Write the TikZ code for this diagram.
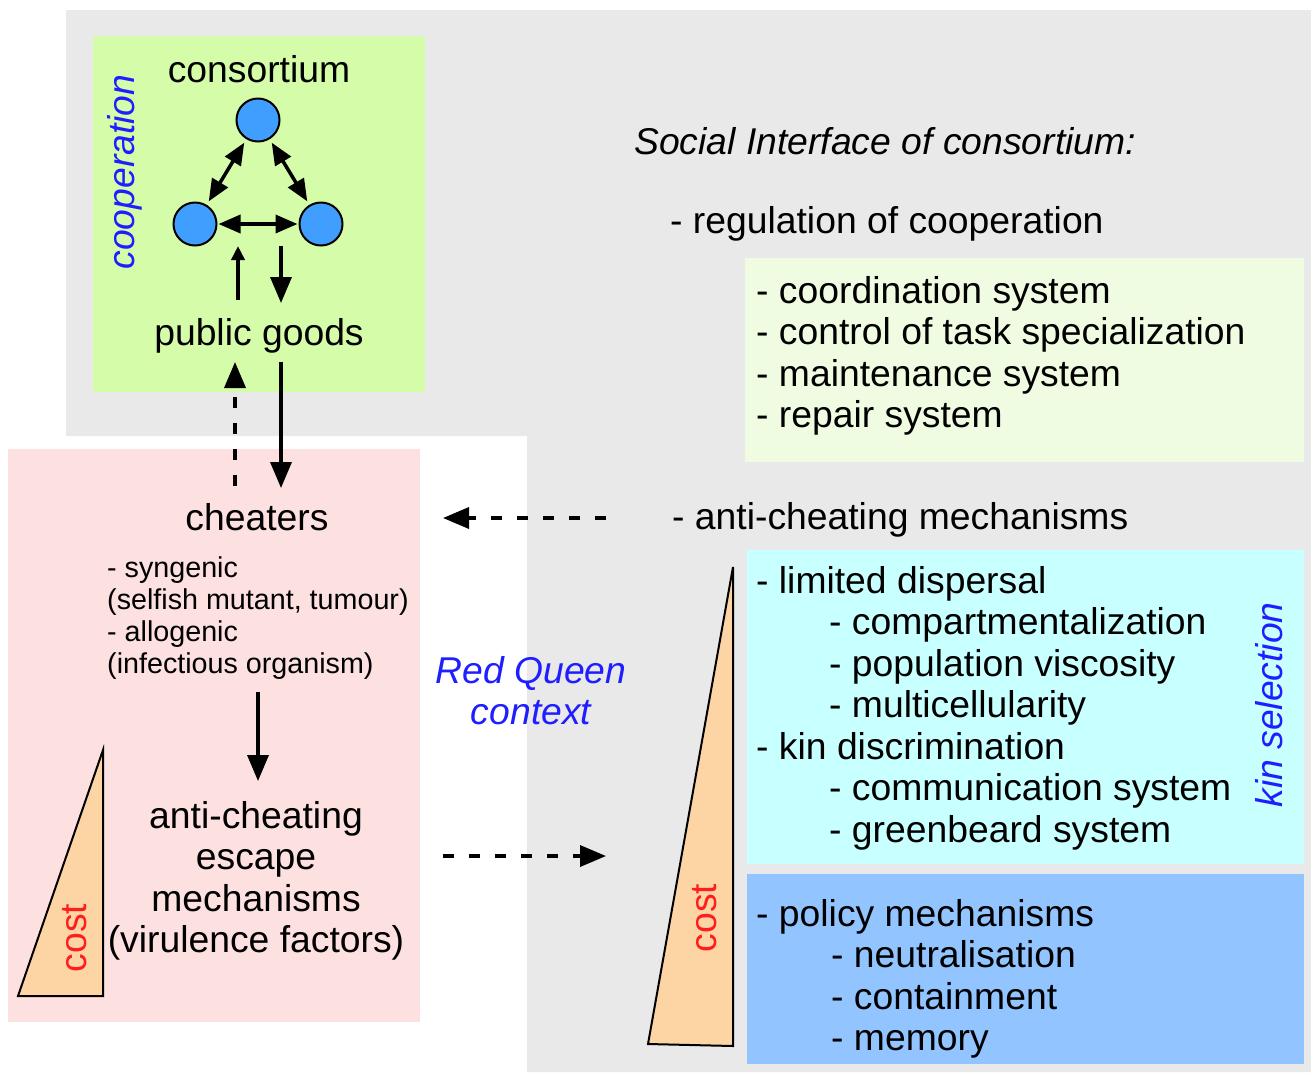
\documentclass[tikz,border=0pt]{standalone}
\usepackage{fontspec}
\setmainfont{Liberation Sans}
\usepackage{tikz}
\usetikzlibrary{arrows.meta}

\definecolor{panel}{RGB}{233,233,233}
\definecolor{coopgreen}{RGB}{213,252,168}
\definecolor{regugreen}{RGB}{240,252,226}
\definecolor{cheatpink}{RGB}{253,224,224}
\definecolor{kincyan}{RGB}{200,255,255}
\definecolor{policyblue}{RGB}{146,196,255}
\definecolor{cellblue}{RGB}{64,158,255}
\definecolor{peach}{RGB}{253,213,165}
\definecolor{qblue}{RGB}{30,30,255}
\definecolor{costred}{RGB}{255,30,30}

\begin{document}
\begin{tikzpicture}[x=1pt, y=-1pt,
    big/.style={inner sep=0pt, font=\fontsize{37.3}{41.5}\selectfont},
    small/.style={inner sep=0pt, font=\fontsize{28.7}{32}\selectfont},
    slant/.style={inner sep=0pt, font=\fontsize{37.3}{41.5}\selectfont\itshape},
    cell/.style={shape=circle, minimum size=43pt, inner sep=0pt, draw, line width=2pt, fill=cellblue},
    arr/.style={line width=3.5pt, -{Triangle[length=26pt,width=21pt]}},
    thin arr/.style={line width=3.5pt, -{Triangle[length=14pt,width=13pt]}},
    dbl/.style={line width=3.5pt, {Triangle[length=22pt,width=18pt]}-{Triangle[length=22pt,width=18pt]}},
    dsh/.style={arr, dash pattern=on 11pt off 15pt},
    wedge/.style={line width=2pt, fill=peach}]
    \useasboundingbox (0,0) rectangle (1311,1072);

    % backgrounds
    \fill[panel] (66,10) -- (1311,10) -- (1311,1072) -- (527,1072) -- (527,436) -- (66,436) -- cycle;
    \fill[coopgreen] (93,36) rectangle (425,392);
    \fill[cheatpink] (8,449) rectangle (420,1022);
    \fill[regugreen] (745,258) rectangle (1304,462);
    \fill[kincyan] (747,550) rectangle (1304,864);
    \fill[policyblue] (747,874) rectangle (1304,1064);

    % consortium
    \node[big, anchor=base] (cons) at (259,82) {consortium};
    \node[cell] (c1) at (258,120) {};
    \node[cell] (c2) at (195,224) {};
    \node[cell] (c3) at (321,224) {};
    \draw[dbl, shorten <=4pt, shorten >=4pt] (c1) -- (c2);
    \draw[dbl, shorten <=4pt, shorten >=4pt] (c1) -- (c3);
    \draw[dbl, shorten <=1pt, shorten >=1pt] (c2) -- (c3);
    \node[slant, text=qblue, anchor=base, rotate=90] (coop) at (134,172) {cooperation};
    \node[big, anchor=base] (pg) at (259,345) {public goods};

    \coordinate (up0) at (238,300);
    \coordinate (up1) at (238,246);
    \coordinate (dn0) at (281,246);
    \coordinate (dn1) at (281,303);
    \draw[thin arr] (up0) -- (up1);
    \draw[arr] (dn0) -- (dn1);

    % cheaters
    \coordinate (pgup) at (235,362);
    \coordinate (chup) at (235,486);
    \coordinate (pgdn) at (281,362);
    \coordinate (chdn) at (281,488);
    \draw[dsh] (chup) -- (pgup);
    \draw[arr] (pgdn) -- (chdn);

    \node[big, anchor=base] (cheat) at (257,530) {cheaters};
    \node[small, anchor=base west] (syn) at (107,577) {- syngenic};
    \node[small, anchor=base west] (syn2) at (107,609) {(selfish mutant, tumour)};
    \node[small, anchor=base west] (allo) at (107,641) {- allogenic};
    \node[small, anchor=base west] (allo2) at (107,673) {(infectious organism)};

    \coordinate (ch0) at (258,692);
    \coordinate (ch1) at (258,781);
    \draw[arr] (ch0) -- (ch1);

    \draw[wedge] (18,996) -- (103,996) -- (103,750) -- cycle;
    \node[big, text=costred, anchor=base, rotate=90] (cost1) at (86,938) {cost};
    \node[big, anchor=base] (esc1) at (256,828) {anti-cheating};
    \node[big, anchor=base] (esc2) at (256,869.5) {escape};
    \node[big, anchor=base] (esc3) at (256,911) {mechanisms};
    \node[big, anchor=base] (esc4) at (256,952.5) {(virulence factors)};

    % red queen
    \node[slant, text=qblue, anchor=base] (rq1) at (531,683) {Red Queen};
    \node[slant, text=qblue, anchor=base] (rq2) at (531,724) {context};
    \coordinate (ac0) at (606,518);
    \coordinate (ac1) at (443,518);
    \coordinate (es0) at (443,856);
    \coordinate (es1) at (606,856);
    \draw[dsh] (ac0) -- (ac1);
    \draw[dsh] (es0) -- (es1);

    % social interface
    \node[slant, anchor=base west] (soc) at (634,154) {Social Interface of consortium:};
    \node[big, anchor=base west] (reg) at (670,233) {- regulation of cooperation};
    \node[big, anchor=base west] (reg1) at (756,303) {- coordination system};
    \node[big, anchor=base west] (reg2) at (756,344.5) {- control of task specialization};
    \node[big, anchor=base west] (reg3) at (756,386) {- maintenance system};
    \node[big, anchor=base west] (reg4) at (756,427.5) {- repair system};

    \node[big, anchor=base west] (anti) at (672,529) {- anti-cheating mechanisms};
    \node[big, anchor=base west] (kin1) at (756,593) {- limited dispersal};
    \node[big, anchor=base west] (kin2) at (829,634.5) {- compartmentalization};
    \node[big, anchor=base west] (kin3) at (829,676) {- population viscosity};
    \node[big, anchor=base west] (kin4) at (829,717.5) {- multicellularity};
    \node[big, anchor=base west] (kin5) at (756,759) {- kin discrimination};
    \node[big, anchor=base west] (kin6) at (829,800.5) {- communication system};
    \node[big, anchor=base west] (kin7) at (829,842) {- greenbeard system};
    \node[slant, text=qblue, anchor=base, rotate=90] (kinsel) at (1282,705) {kin selection};

    \node[big, anchor=base west] (pol1) at (756,926) {- policy mechanisms};
    \node[big, anchor=base west] (pol2) at (831,967.5) {- neutralisation};
    \node[big, anchor=base west] (pol3) at (831,1009) {- containment};
    \node[big, anchor=base west] (pol4) at (831,1050.5) {- memory};

    \draw[wedge] (648,1044) -- (733,1046) -- (733,567) -- cycle;
    \node[big, text=costred, anchor=base, rotate=90] (cost2) at (716,918) {cost};
\end{tikzpicture}
\end{document}
